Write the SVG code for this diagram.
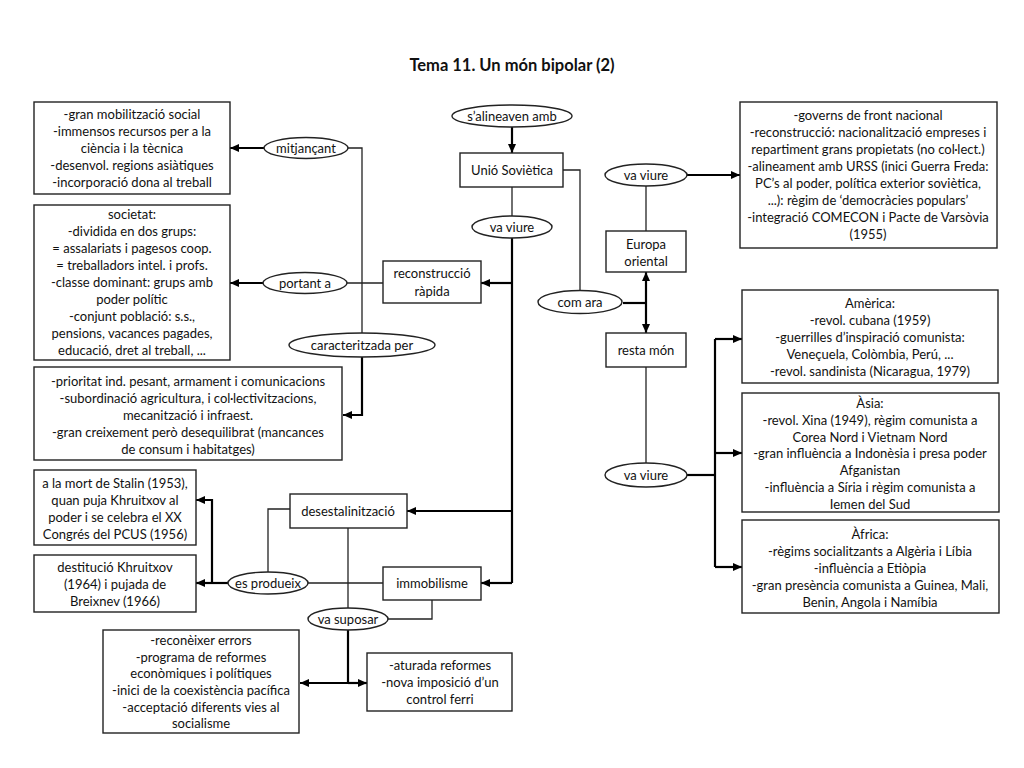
<svg xmlns="http://www.w3.org/2000/svg" width="1024" height="768" viewBox="0 0 1024 768">
<defs>
<marker id="ah" markerWidth="9" markerHeight="8" refX="9" refY="4" orient="auto-start-reverse" markerUnits="userSpaceOnUse"><path d="M0,0 L9,4 L0,8 z" fill="#000"/></marker>
</defs>
<style>
.box{fill:#fff;stroke:#222;stroke-width:1.4}
.ov{fill:#fff;stroke:#222;stroke-width:1.4}
text{font-family:Lato,"Liberation Sans",sans-serif;font-size:13px;fill:#111;text-anchor:middle;dominant-baseline:central}
.title{font-size:16.5px;font-weight:bold}
.thin{fill:none;stroke:#222;stroke-width:1.3}
.thick{fill:none;stroke:#000;stroke-width:2.2}
.arr{fill:none;stroke:#000;stroke-width:2.2;marker-end:url(#ah)}
</style>
<rect width="1024" height="768" fill="#fff"/>
<text class="title" x="512" y="65">Tema 11. Un món bipolar (2)</text>

<g id="connectors">
<path class="arr" d="M264,148 H230"/>
<path class="thin" d="M348,148 H362 V333"/>
<path class="arr" d="M264,283 H230"/>
<path class="thin" d="M347,283 H383"/>
<path class="arr" d="M362,357 V415 H343"/>
<path class="arr" d="M512,127 V153"/>
<path class="thin" d="M512,187 V216"/>
<path class="thick" d="M512,238 V583"/>
<path class="arr" d="M512,283 H481"/>
<path class="arr" d="M512,511 H407"/>
<path class="arr" d="M512,583 H481"/>
<path class="thin" d="M563,170 H580 V291"/>
<path class="thick" d="M623,303 H646"/>
<path class="arr" d="M646,303 V272"/>
<path class="arr" d="M646,303 V333"/>
<path class="thin" d="M646,186 V231"/>
<path class="arr" d="M687,175 H740"/>
<path class="thin" d="M646,367 V463"/>
<path class="thick" d="M687,475 H715"/>
<path class="thick" d="M715,339 V567"/>
<path class="arr" d="M715,339 H742"/>
<path class="arr" d="M715,453 H742"/>
<path class="arr" d="M715,567 H742"/>
<path class="thin" d="M290,509 H268 V572"/>
<path class="arr" d="M228,583 H196"/>
<path class="arr" d="M212,583 V500 H196"/>
<path class="thin" d="M308,583 H383"/>
<path class="thin" d="M348,528 V608"/>
<path class="thin" d="M388,619 H432 V600"/>
<path class="thick" d="M348,630 V683"/>
<path class="arr" d="M348,683 H300"/>
<path class="arr" d="M348,683 H367"/>
</g>

<g id="n-mitjancant-box">
<rect class="box" x="34" y="102" width="196" height="92"/>
<text x="132" y="114">-gran mobilització social</text>
<text x="132" y="131">-immensos recursos per a la</text>
<text x="132" y="148">ciència i la tècnica</text>
<text x="132" y="165">-desenvol. regions asiàtiques</text>
<text x="132" y="182">-incorporació dona al treball</text>
</g>
<g id="n-mitjancant"><ellipse class="ov" cx="306" cy="148" rx="42" ry="10.5"/><text x="306" y="148">mitjançant</text></g>

<g id="n-societat">
<rect class="box" x="34" y="205" width="196" height="155"/>
<text x="132" y="214">societat:</text>
<text x="132" y="231">-dividida en dos grups:</text>
<text x="132" y="248">= assalariats i pagesos coop.</text>
<text x="132" y="265">= treballadors intel. i profs.</text>
<text x="132" y="282">-classe dominant: grups amb</text>
<text x="132" y="299">poder polític</text>
<text x="132" y="316">-conjunt població: s.s.,</text>
<text x="132" y="333">pensions, vacances pagades,</text>
<text x="132" y="350">educació, dret al treball, ...</text>
</g>
<g id="n-portant"><ellipse class="ov" cx="305" cy="283" rx="42" ry="10.5"/><text x="305" y="283">portant a</text></g>
<g id="n-reconstruccio">
<rect class="box" x="383" y="261" width="98" height="42"/>
<text x="432" y="273">reconstrucció</text>
<text x="432" y="291">ràpida</text>
</g>
<g id="n-caracteritzada"><ellipse class="ov" cx="362" cy="345" rx="73" ry="12"/><text x="362" y="345">caracteritzada per</text></g>
<g id="n-prioritat">
<rect class="box" x="34" y="367" width="308" height="93"/>
<text x="188" y="381">-prioritat ind. pesant, armament i comunicacions</text>
<text x="188" y="398">-subordinació agricultura, i col·lectivitzacions,</text>
<text x="188" y="415">mecanització i infraest.</text>
<text x="188" y="432">-gran creixement però desequilibrat (mancances</text>
<text x="188" y="449">de consum i habitatges)</text>
</g>

<g id="n-salineaven"><ellipse class="ov" cx="512" cy="116" rx="60" ry="11"/><text x="512" y="116">s’alineaven amb</text></g>
<g id="n-unio"><rect class="box" x="460" y="153" width="103" height="34"/><text x="512" y="170">Unió Soviètica</text></g>
<g id="n-vaviure1"><ellipse class="ov" cx="512" cy="227" rx="40" ry="11"/><text x="512" y="227">va viure</text></g>
<g id="n-comara"><ellipse class="ov" cx="580" cy="302" rx="42" ry="11.5"/><text x="580" y="302">com ara</text></g>
<g id="n-vaviure2"><ellipse class="ov" cx="646" cy="175" rx="41" ry="11"/><text x="646" y="175">va viure</text></g>
<g id="n-europa">
<rect class="box" x="606" y="231" width="80" height="41"/>
<text x="646" y="244">Europa</text>
<text x="646" y="261">oriental</text>
</g>
<g id="n-governs">
<rect class="box" x="740" y="102" width="257" height="146"/>
<text x="868" y="115">-governs de front nacional</text>
<text x="868" y="132">-reconstrucció: nacionalització empreses i</text>
<text x="868" y="149">repartiment grans propietats (no col·lect.)</text>
<text x="868" y="166">-alineament amb URSS (inici Guerra Freda:</text>
<text x="868" y="183">PC’s al poder, política exterior soviètica,</text>
<text x="868" y="200">...): règim de ‘democràcies populars’</text>
<text x="868" y="217">-integració COMECON i Pacte de Varsòvia</text>
<text x="868" y="234">(1955)</text>
</g>
<g id="n-resta"><rect class="box" x="606" y="333" width="80" height="34"/><text x="646" y="350">resta món</text></g>
<g id="n-vaviure3"><ellipse class="ov" cx="646" cy="475" rx="41" ry="12"/><text x="646" y="475">va viure</text></g>
<g id="n-america">
<rect class="box" x="742" y="290" width="256" height="93"/>
<text x="870" y="303">Amèrica:</text>
<text x="870" y="320">-revol. cubana (1959)</text>
<text x="870" y="337">-guerrilles d’inspiració comunista:</text>
<text x="870" y="354">Veneçuela, Colòmbia, Perú, ...</text>
<text x="870" y="371">-revol. sandinista (Nicaragua, 1979)</text>
</g>
<g id="n-asia">
<rect class="box" x="742" y="393" width="257" height="119"/>
<text x="870" y="403">Àsia:</text>
<text x="870" y="420">-revol. Xina (1949), règim comunista a</text>
<text x="870" y="437">Corea Nord i Vietnam Nord</text>
<text x="870" y="453">-gran influència a Indonèsia i presa poder</text>
<text x="870" y="470">Afganistan</text>
<text x="870" y="487">-influència a Síria i règim comunista a</text>
<text x="870" y="504">Iemen del Sud</text>
</g>
<g id="n-africa">
<rect class="box" x="742" y="520" width="257" height="93"/>
<text x="870" y="534">Àfrica:</text>
<text x="870" y="551">-règims socialitzants a Algèria i Líbia</text>
<text x="870" y="568">-influència a Etiòpia</text>
<text x="870" y="585">-gran presència comunista a Guinea, Mali,</text>
<text x="870" y="602">Benin, Angola i Namíbia</text>
</g>

<g id="n-stalin">
<rect class="box" x="34" y="470" width="162" height="75"/>
<text x="115" y="483">a la mort de Stalin (1953),</text>
<text x="115" y="500">quan puja Khruitxov al</text>
<text x="115" y="517">poder i se celebra el XX</text>
<text x="115" y="534">Congrés del PCUS (1956)</text>
</g>
<g id="n-destitucio">
<rect class="box" x="34" y="555" width="162" height="57"/>
<text x="115" y="567">destitució Khruitxov</text>
<text x="115" y="584">(1964) i pujada de</text>
<text x="115" y="601">Breixnev (1966)</text>
</g>
<g id="n-esprodueix"><ellipse class="ov" cx="268" cy="583" rx="40" ry="11"/><text x="268" y="583">es produeix</text></g>
<g id="n-desestalinitzacio"><rect class="box" x="290" y="494" width="117" height="34"/><text x="348" y="511">desestalinització</text></g>
<g id="n-immobilisme"><rect class="box" x="383" y="567" width="98" height="33"/><text x="432" y="583">immobilisme</text></g>
<g id="n-vasuposar"><ellipse class="ov" cx="348" cy="619" rx="40" ry="11"/><text x="348" y="619">va suposar</text></g>
<g id="n-reconeixer">
<rect class="box" x="103" y="630" width="196" height="103"/>
<text x="201" y="640">-reconèixer errors</text>
<text x="201" y="657">-programa de reformes</text>
<text x="201" y="673">econòmiques i polítiques</text>
<text x="201" y="690">-inici de la coexistència pacífica</text>
<text x="201" y="707">-acceptació diferents vies al</text>
<text x="201" y="723">socialisme</text>
</g>
<g id="n-aturada">
<rect class="box" x="367" y="653" width="145" height="58"/>
<text x="440" y="665">-aturada reformes</text>
<text x="440" y="682">-nova imposició d’un</text>
<text x="440" y="699">control ferri</text>
</g>
</svg>
